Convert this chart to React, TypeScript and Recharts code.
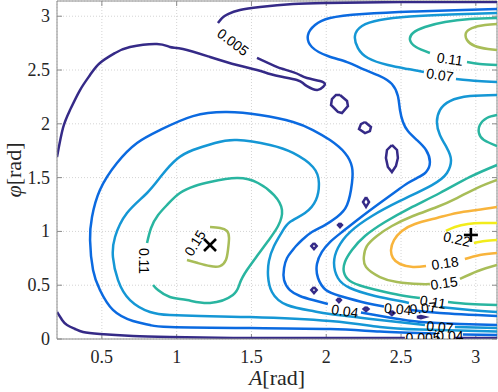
import React from "react";
import {
  ComposedChart,
  Line,
  Scatter,
  XAxis,
  YAxis,
  CartesianGrid,
  ReferenceLine,
} from "recharts";

if (typeof document !== "undefined") document.body.style.margin = "0";

const X_MIN = 0.2;
const X_MAX = Math.PI;
const Y_MIN = 0;
const Y_MAX = Math.PI;
const X_TICKS = [0.5, 1, 1.5, 2, 2.5, 3];
const Y_TICKS = [0, 0.5, 1, 1.5, 2, 2.5, 3];

const NAVY = "#352a87";
const BLUE = "#0b6ae0";
const LBLUE = "#1597d5";
const TEAL = "#29b5a0";
const OLIVE = "#a8bd58";
const ORANGE = "#f8b43c";
const YELLOW = "#f2ec1b";
const AXIS = "#8c8c8c";

// contour lines, flat [x, y, x, y, ...] in (A, phi) units

// level 0.005
const c005Arc = [0.2, 1.691, 0.24, 1.961, 0.287, 2.128, 0.354, 2.314, 0.421, 2.454, 0.487, 2.565, 0.588, 2.658, 0.688, 2.714, 0.868, 2.742, 0.955, 2.714, 1.042, 2.695, 1.223, 2.621, 1.403, 2.546, 1.537, 2.5, 1.624, 2.463, 1.711, 2.435, 1.804, 2.407, 1.844, 2.379, 1.871, 2.351, 1.938, 2.314, 1.978, 2.342, 1.991, 2.37, 1.958, 2.398, 1.871, 2.426, 1.824, 2.454, 1.778, 2.481, 1.711, 2.509, 1.657, 2.537, 1.537, 2.612];
const c005Top = [1.276, 2.937, 1.303, 2.983, 1.343, 3.02, 1.423, 3.058, 1.557, 3.086, 1.778, 3.113, 2.005, 3.123, 2.493, 3.132, 3.142, 3.132];
const c005Bottom = [0.2, 0.251, 0.234, 0.177, 0.267, 0.13, 0.321, 0.093, 0.374, 0.065, 0.487, 0.046, 0.708, 0.028, 0.955, 0.019, 1.49, 0.009, 2.025, 0.009, 2.526, 0.009];
const c005BottomEnd = [2.86, 0.009, 3.142, 0.009];
const c005Loops = [
  [2.092, 2.268, 2.139, 2.212, 2.145, 2.165, 2.105, 2.1, 2.078, 2.11, 2.032, 2.175, 2.038, 2.23, 2.065, 2.268, 2.092, 2.268],
  [2.259, 2.017, 2.299, 1.97, 2.292, 1.933, 2.259, 1.914, 2.219, 1.952, 2.232, 1.998, 2.259, 2.017],
  [2.439, 1.803, 2.473, 1.757, 2.479, 1.682, 2.466, 1.608, 2.439, 1.552, 2.412, 1.599, 2.399, 1.682, 2.406, 1.757, 2.439, 1.803],
  [2.266, 1.318, 2.286, 1.273, 2.266, 1.228, 2.246, 1.273, 2.266, 1.318],
  [2.092, 1.078, 2.105, 1.059, 2.092, 1.04, 2.079, 1.059, 2.092, 1.078],
  [1.918, 0.892, 1.936, 0.864, 1.918, 0.836, 1.9, 0.864, 1.918, 0.892],
  [1.918, 0.483, 1.936, 0.455, 1.918, 0.427, 1.9, 0.455, 1.918, 0.483],
  [2.085, 0.381, 2.098, 0.362, 2.085, 0.343, 2.072, 0.362, 2.085, 0.381],
  [2.266, 0.298, 2.282, 0.279, 2.266, 0.26, 2.25, 0.279, 2.266, 0.298],
  [2.439, 0.261, 2.455, 0.242, 2.439, 0.223, 2.423, 0.242, 2.439, 0.261],
  [2.606, 0.204, 2.633, 0.214, 2.66, 0.204, 2.633, 0.194, 2.606, 0.204],
];

// level 0.04
const c04LowEnd = [3.142, 0.037, 2.914, 0.042];
const c04Left = [2.734, 0.051, 2.359, 0.07, 2.025, 0.093, 1.49, 0.102, 0.955, 0.112, 0.822, 0.13, 0.708, 0.167, 0.574, 0.27, 0.487, 0.455, 0.441, 0.641, 0.421, 0.92, 0.434, 1.134, 0.487, 1.385, 0.601, 1.636, 0.735, 1.822, 0.888, 1.942, 1.109, 2.072, 1.336, 2.11, 1.557, 2.082, 1.778, 2.017, 1.911, 1.942, 2.025, 1.849, 2.125, 1.729, 2.172, 1.599, 2.172, 1.45, 2.139, 1.245, 2.072, 1.134, 1.991, 1.059, 1.904, 0.994, 1.838, 0.92, 1.798, 0.864, 1.771, 0.818, 1.738, 0.753, 1.718, 0.66, 1.718, 0.548, 1.757, 0.455, 1.824, 0.4, 1.911, 0.362, 2.011, 0.325];
const c04Valley = [2.232, 0.246, 2.439, 0.195, 2.633, 0.158, 2.894, 0.139, 3.142, 0.13];
const c04Right = [3.142, 3.067, 2.914, 3.058, 2.58, 3.044, 2.246, 3.02, 2.025, 2.983, 1.925, 2.918, 1.878, 2.825, 1.904, 2.714, 2.011, 2.63, 2.139, 2.574, 2.246, 2.509, 2.359, 2.444, 2.439, 2.37, 2.479, 2.258, 2.493, 2.128, 2.513, 2.017, 2.546, 1.933, 2.606, 1.849, 2.667, 1.757, 2.693, 1.645, 2.667, 1.552, 2.606, 1.496, 2.546, 1.45, 2.479, 1.385, 2.359, 1.264, 2.225, 1.125, 2.105, 0.994, 2.025, 0.901, 1.971, 0.809, 1.938, 0.697, 1.945, 0.567, 1.998, 0.455, 2.092, 0.4, 2.266, 0.335, 2.386, 0.302];
const c04RightEnd = [2.566, 0.27, 2.76, 0.242, 3.142, 0.214];

// level 0.07
const c07TopC = [3.142, 3.03, 2.827, 3.016, 2.56, 2.997, 2.359, 2.965, 2.239, 2.909, 2.192, 2.816, 2.212, 2.704, 2.279, 2.612, 2.412, 2.546, 2.546, 2.509, 2.653, 2.481];
const c07TopCEnd = [2.867, 2.416, 3.014, 2.398, 3.142, 2.388];
const c07Right = [3.142, 2.268, 2.961, 2.258, 2.827, 2.212, 2.76, 2.128, 2.74, 2.017, 2.76, 1.896, 2.807, 1.775, 2.834, 1.664, 2.807, 1.543, 2.707, 1.431, 2.493, 1.283, 2.306, 1.143, 2.159, 0.994, 2.078, 0.846, 2.052, 0.706, 2.078, 0.567, 2.159, 0.474, 2.326, 0.4, 2.493, 0.353, 2.553, 0.335];
const c07RightEnd = [2.76, 0.297, 2.961, 0.27, 3.142, 0.251];
const c07Left = [3.142, 0.07, 2.626, 0.088, 2.359, 0.112, 2.025, 0.167, 1.49, 0.204, 1.156, 0.214, 0.955, 0.223, 0.822, 0.251, 0.688, 0.362, 0.608, 0.548, 0.574, 0.762, 0.588, 0.948, 0.668, 1.171, 0.802, 1.357, 0.902, 1.524, 1.002, 1.673, 1.109, 1.757, 1.256, 1.822, 1.403, 1.849, 1.624, 1.803, 1.778, 1.729, 1.911, 1.599, 1.951, 1.45, 1.931, 1.292, 1.858, 1.171, 1.757, 1.087, 1.704, 0.994, 1.651, 0.864, 1.617, 0.725, 1.611, 0.585, 1.637, 0.437, 1.738, 0.316, 1.911, 0.26, 2.025, 0.232, 2.359, 0.177, 2.66, 0.13];
const c07LeftEnd = [2.86, 0.112, 3.142, 0.102];

// level 0.11
const c11TopC = [3.142, 2.983, 2.961, 2.974, 2.794, 2.946, 2.66, 2.9, 2.58, 2.844, 2.56, 2.779, 2.6, 2.714, 2.693, 2.658];
const c11TopCEnd = [2.941, 2.574, 3.027, 2.556, 3.142, 2.546];
const c11EdgeC = [3.142, 2.082, 3.074, 2.054, 3.027, 1.989, 3.021, 1.914, 3.054, 1.849, 3.142, 1.794];
const c11Right = [3.142, 1.617, 2.961, 1.506, 2.76, 1.357, 2.56, 1.217, 2.393, 1.087, 2.259, 0.957, 2.172, 0.827, 2.125, 0.716, 2.118, 0.623, 2.159, 0.539, 2.259, 0.483, 2.393, 0.437, 2.526, 0.4, 2.626, 0.381];
const c11RightEnd = [2.814, 0.344, 2.961, 0.325, 3.142, 0.316];
const c11Left = [0.802, 0.892, 0.829, 1.032, 0.876, 1.152, 0.942, 1.255, 1.022, 1.357, 1.122, 1.422, 1.223, 1.459, 1.403, 1.496, 1.544, 1.45, 1.651, 1.338, 1.704, 1.199, 1.678, 1.05, 1.611, 0.911, 1.537, 0.771, 1.47, 0.641, 1.423, 0.52, 1.376, 0.409, 1.223, 0.335, 1.069, 0.362, 0.955, 0.39, 0.875, 0.455, 0.842, 0.502];

// level 0.15
const c15TopU = [3.142, 2.928, 3.061, 2.918, 2.974, 2.89, 2.934, 2.844, 2.941, 2.779, 2.994, 2.723, 3.081, 2.695, 3.142, 2.686];
const c15Right = [3.142, 1.478, 3.007, 1.403, 2.874, 1.31, 2.74, 1.227, 2.58, 1.143, 2.439, 1.05, 2.339, 0.957, 2.272, 0.864, 2.252, 0.771, 2.266, 0.669, 2.359, 0.576, 2.473, 0.53, 2.626, 0.511, 2.693, 0.511];
const c15RightEnd = [2.894, 0.558, 3.014, 0.632, 3.142, 0.688];
const c15Left = [1.223, 1.041, 1.29, 1.032, 1.336, 1.004, 1.35, 0.939, 1.343, 0.827, 1.329, 0.734, 1.29, 0.678, 1.223, 0.678, 1.142, 0.706, 1.069, 0.734];

// level 0.18
const c18Right = [3.142, 1.227, 3.007, 1.199, 2.874, 1.171, 2.74, 1.125, 2.593, 1.069, 2.506, 1.004, 2.453, 0.92, 2.433, 0.827, 2.446, 0.753, 2.493, 0.697, 2.58, 0.669, 2.667, 0.678];
const c18RightEnd = [2.927, 0.743, 3.027, 0.781, 3.142, 0.799];

// level 0.22
const c22Upper = [3.142, 1.078, 3.041, 1.078, 2.947, 1.069, 2.86, 1.041, 2.8, 1.004];
const c22Lower = [2.987, 0.892, 3.061, 0.911, 3.142, 0.92];

const LABELS = [
  { x: 1.377, y: 2.76, text: "0.005", angle: 37 },
  { x: 0.782, y: 0.725, text: "0.11", angle: 90 },
  { x: 1.122, y: 0.892, text: "0.15", angle: -58 },
  { x: 2.827, y: 2.602, text: "0.11", angle: 8 },
  { x: 2.76, y: 2.454, text: "0.07", angle: 8 },
  { x: 2.874, y: 0.929, text: "0.22", angle: 12 },
  { x: 2.794, y: 0.706, text: "0.18", angle: -8 },
  { x: 2.787, y: 0.52, text: "0.15", angle: -8 },
  { x: 2.713, y: 0.344, text: "0.11", angle: 8 },
  { x: 2.647, y: 0.288, text: "0.07", angle: -5 },
  { x: 2.125, y: 0.26, text: "0.04", angle: 8 },
  { x: 2.479, y: 0.279, text: "0.04", angle: 5 },
  { x: 2.76, y: 0.112, text: "0.07", angle: 5 },
  { x: 2.647, y: 0.012, text: "0.005", angle: 0 },
  { x: 2.827, y: 0.028, text: "0.04", angle: 0 },
];

const MARKERS = [
  { x: 1.223, y: 0.874, kind: "x" },
  { x: 2.967, y: 0.967, kind: "+" },
];

type Pt = { x: number; y: number };
function toPts(a: number[]): Pt[] {
  const out: Pt[] = [];
  for (let i = 0; i < a.length; i += 2) out.push({ x: a[i], y: a[i + 1] });
  return out;
}

const SERIES: { pts: number[]; color: string; linear?: boolean }[] = [
  { pts: c005Arc, color: NAVY },
  { pts: c005Top, color: NAVY },
  { pts: c005Bottom, color: NAVY },
  { pts: c005BottomEnd, color: NAVY, linear: true },
  ...c005Loops.map((p) => ({ pts: p, color: NAVY, linear: true })),
  { pts: c04LowEnd, color: BLUE, linear: true },
  { pts: c04Left, color: BLUE },
  { pts: c04Valley, color: BLUE },
  { pts: c04Right, color: BLUE },
  { pts: c04RightEnd, color: BLUE },
  { pts: c07TopC, color: LBLUE },
  { pts: c07TopCEnd, color: LBLUE },
  { pts: c07Right, color: LBLUE },
  { pts: c07RightEnd, color: LBLUE },
  { pts: c07Left, color: LBLUE },
  { pts: c07LeftEnd, color: LBLUE, linear: true },
  { pts: c11TopC, color: TEAL },
  { pts: c11TopCEnd, color: TEAL },
  { pts: c11EdgeC, color: TEAL },
  { pts: c11Right, color: TEAL },
  { pts: c11RightEnd, color: TEAL },
  { pts: c11Left, color: TEAL },
  { pts: c15TopU, color: OLIVE },
  { pts: c15Right, color: OLIVE },
  { pts: c15RightEnd, color: OLIVE },
  { pts: c15Left, color: OLIVE },
  { pts: c18Right, color: ORANGE },
  { pts: c18RightEnd, color: ORANGE },
  { pts: c22Upper, color: YELLOW },
  { pts: c22Lower, color: YELLOW },
];

const SERIF = "'Liberation Serif', 'DejaVu Serif', serif";
const SANS = "'Liberation Sans', Arial, sans-serif";

// inward tick length in data units (about 5px)
const TX = ((X_MAX - X_MIN) * 5) / 440;
const TY = ((Y_MAX - Y_MIN) * 5) / 338;

function XTick(props: any) {
  const { x, y, payload } = props;
  return (
    <text x={x} y={y + 24} textAnchor="middle" fontFamily={SERIF} fontSize={18} fill="#262626">
      {String(payload.value)}
    </text>
  );
}

function YTick(props: any) {
  const { x, y, payload } = props;
  return (
    <text x={x - 7} y={y + 6} textAnchor="end" fontFamily={SERIF} fontSize={18} fill="#262626">
      {String(payload.value)}
    </text>
  );
}

function renderLabel(props: any) {
  const { cx, cy, payload } = props;
  return (
    <text
      x={cx}
      y={cy}
      transform={`rotate(${payload.angle} ${cx} ${cy})`}
      textAnchor="middle"
      dominantBaseline="central"
      fontFamily={SANS}
      fontSize={14}
      fill="#000"
    >
      {payload.text}
    </text>
  );
}

function renderMarker(props: any) {
  const { cx, cy, payload } = props;
  const s = 6;
  if (payload.kind === "x") {
    return (
      <g stroke="#000" strokeWidth={2.6}>
        <line x1={cx - s} y1={cy - s} x2={cx + s} y2={cy + s} />
        <line x1={cx - s} y1={cy + s} x2={cx + s} y2={cy - s} />
      </g>
    );
  }
  return (
    <g stroke="#000" strokeWidth={2.6}>
      <line x1={cx - 7} y1={cy} x2={cx + 7} y2={cy} />
      <line x1={cx} y1={cy - 7} x2={cx} y2={cy + 7} />
    </g>
  );
}

function XTitle(props: any) {
  const vb = props.viewBox;
  return (
    <text x={vb.x + vb.width / 2} y={vb.y + 46} textAnchor="middle" fontFamily={SERIF} fontSize={22} fill="#262626">
      <tspan fontStyle="italic">A</tspan>[rad]
    </text>
  );
}

function YTitle(props: any) {
  const vb = props.viewBox;
  const cx = 13;
  const cy = vb.y + vb.height / 2;
  return (
    <text
      x={cx}
      y={cy}
      transform={`rotate(-90 ${cx} ${cy})`}
      textAnchor="middle"
      dominantBaseline="central"
      fontFamily={SERIF}
      fontSize={22}
      fill="#262626"
    >
      <tspan fontStyle="italic">φ</tspan>[rad]
    </text>
  );
}

export default function App() {
  return (
    <div style={{ width: 498, height: 392, background: "#fff" }}>
      <ComposedChart width={498} height={392} margin={{ top: 1, right: 1, bottom: 0, left: 0 }}>
        <CartesianGrid stroke="#d4d4d4" strokeDasharray="1 2" />
        <XAxis
          type="number"
          dataKey="x"
          domain={[X_MIN, X_MAX]}
          ticks={X_TICKS}
          allowDataOverflow
          height={53}
          tickLine={false}
          tickSize={0}
          tickMargin={0}
          axisLine={{ stroke: AXIS }}
          tick={<XTick />}
          label={XTitle}
        />
        <YAxis
          type="number"
          dataKey="y"
          domain={[Y_MIN, Y_MAX]}
          ticks={Y_TICKS}
          allowDataOverflow
          width={57}
          tickLine={false}
          tickSize={0}
          tickMargin={0}
          axisLine={{ stroke: AXIS }}
          tick={<YTick />}
          label={YTitle}
        />
        <ReferenceLine x={X_MAX} stroke={AXIS} ifOverflow="visible" />
        <ReferenceLine y={Y_MAX} stroke={AXIS} ifOverflow="visible" />
        {X_TICKS.map((t) => (
          <ReferenceLine key={"xb" + t} segment={[{ x: t, y: Y_MIN }, { x: t, y: Y_MIN + TY }]} stroke={AXIS} ifOverflow="visible" />
        ))}
        {X_TICKS.map((t) => (
          <ReferenceLine key={"xt" + t} segment={[{ x: t, y: Y_MAX }, { x: t, y: Y_MAX - TY }]} stroke={AXIS} ifOverflow="visible" />
        ))}
        {Y_TICKS.map((t) => (
          <ReferenceLine key={"yl" + t} segment={[{ x: X_MIN, y: t }, { x: X_MIN + TX, y: t }]} stroke={AXIS} ifOverflow="visible" />
        ))}
        {Y_TICKS.map((t) => (
          <ReferenceLine key={"yr" + t} segment={[{ x: X_MAX, y: t }, { x: X_MAX - TX, y: t }]} stroke={AXIS} ifOverflow="visible" />
        ))}
        {SERIES.map((s, i) => (
          <Line
            key={"c" + i}
            data={toPts(s.pts)}
            dataKey="y"
            type={s.linear ? "linear" : "natural"}
            stroke={s.color}
            strokeWidth={2.5}
            dot={false}
            activeDot={false}
            isAnimationActive={false}
          />
        ))}
        <Scatter data={MARKERS} dataKey="y" shape={renderMarker} isAnimationActive={false} />
        <Scatter data={LABELS} dataKey="y" shape={renderLabel} isAnimationActive={false} />
      </ComposedChart>
    </div>
  );
}
